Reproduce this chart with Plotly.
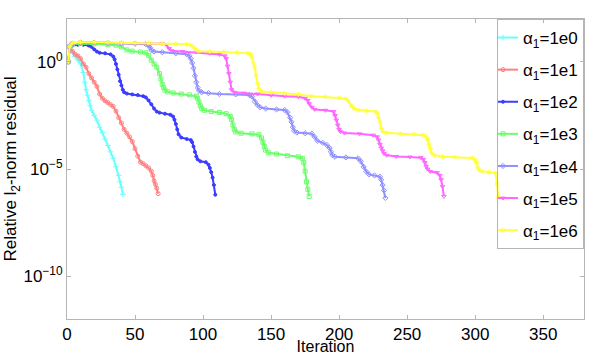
import plotly.graph_objects as go

# iteration numbers and log10 of the relative l2-norm residual
it_1e0 = [1, 2, 4, 6, 8, 10, 12, 13, 14, 15, 16, 17, 18, 20, 22, 24, 26, 28, 30, 32, 34, 36, 38, 39, 40, 41]
lr_1e0 = [0, 0.62, 0.45, 0.25, 0.08, -0.1, -0.5, -0.95, -1.3, -1.55, -1.8, -2.05, -2.25, -2.5, -2.72,
          -3.05, -3.3, -3.6, -3.9, -4.2, -4.5, -4.9, -5.3, -5.6, -5.85, -6.18]

it_1e1 = [1, 2, 4, 6, 8, 10, 12, 14, 16, 18, 20, 22, 24, 26, 28, 30, 32, 34, 36, 38, 40, 42, 44, 46, 48,
          50, 52, 54, 56, 58, 60, 62, 63, 64, 65, 66, 67]
lr_1e1 = [0, 0.65, 0.5, 0.35, 0.28, 0.15, -0.1, -0.25, -0.55, -0.75, -0.95, -1.15, -1.5, -1.7, -1.82,
          -1.9, -2.0, -2.08, -2.3, -2.6, -2.85, -3.15, -3.33, -3.5, -3.72, -4.05, -4.4, -4.68, -4.75,
          -4.85, -4.95, -5.1, -5.3, -5.55, -5.72, -5.9, -6.15]

it_1e2 = [1, 2, 4, 8, 12, 16, 18, 20, 22, 24, 28, 32, 34, 35, 36, 37, 38, 39, 40, 41, 42, 44, 48, 52, 56,
          58, 60, 62, 64, 66, 68, 72, 76, 78, 79, 80, 81, 82, 84, 88, 91, 92, 93, 94, 95, 96, 98, 102,
          104, 105, 106, 107, 108, 109]
lr_1e2 = [0, 0.72, 0.76, 0.8, 0.8, 0.76, 0.7, 0.58, 0.48, 0.42, 0.4, 0.35, 0.25, 0.12, -0.1, -0.35,
          -0.6, -0.9, -1.1, -1.3, -1.42, -1.48, -1.52, -1.55, -1.6, -1.66, -1.8, -1.98, -2.18, -2.32,
          -2.37, -2.42, -2.47, -2.55, -2.7, -2.9, -3.15, -3.38, -3.53, -3.6, -3.65, -3.75, -3.95, -4.2,
          -4.42, -4.55, -4.64, -4.68, -4.8, -4.95, -5.15, -5.4, -5.75, -6.2]

it_1e3 = [1, 2, 4, 10, 20, 30, 36, 40, 44, 48, 54, 58, 60, 62, 64, 66, 68, 69, 70, 71, 72, 74, 78, 84,
          90, 95, 96, 97, 98, 99, 101, 106, 112, 117, 120, 121, 122, 123, 124, 128, 136, 141, 143, 144,
          145, 146, 148, 154, 162, 170, 173, 174, 175, 176, 177, 178]
lr_1e3 = [0, 0.72, 0.82, 0.86, 0.84, 0.8, 0.78, 0.7, 0.56, 0.5, 0.46, 0.42, 0.3, 0.08, -0.1, -0.25,
          -0.55, -0.8, -1.05, -1.2, -1.32, -1.4, -1.45, -1.5, -1.54, -1.6, -1.7, -1.88, -2.05, -2.18,
          -2.26, -2.32, -2.36, -2.42, -2.55, -2.7, -2.95, -3.15, -3.27, -3.33, -3.36, -3.4, -3.55, -3.75,
          -3.95, -4.12, -4.24, -4.3, -4.38, -4.43, -4.5, -4.7, -5.1, -5.6, -5.95, -6.28]

it_1e4 = [1, 2, 4, 10, 20, 30, 40, 50, 58, 60, 61, 62, 64, 70, 80, 88, 90, 91, 92, 93, 94, 95, 96, 97,
          99, 104, 112, 124, 134, 136, 138, 140, 142, 146, 154, 160, 162, 164, 165, 166, 167, 169, 175,
          180, 182, 184, 188, 191, 193, 194, 195, 197, 205, 214, 216, 218, 220, 222, 226, 230, 231, 232,
          233, 234]
lr_1e4 = [0, 0.72, 0.85, 0.9, 0.9, 0.88, 0.86, 0.84, 0.82, 0.78, 0.66, 0.55, 0.48, 0.45, 0.4, 0.36,
          0.28, 0.15, -0.05, -0.3, -0.65, -0.95, -1.2, -1.35, -1.42, -1.46, -1.5, -1.52, -1.55, -1.62,
          -1.85, -2.02, -2.12, -2.18, -2.22, -2.25, -2.35, -2.6, -2.8, -3.05, -3.22, -3.3, -3.33, -3.35,
          -3.5, -3.68, -3.78, -3.88, -4.02, -4.2, -4.35, -4.43, -4.46, -4.5, -4.65, -4.9, -5.12, -5.25,
          -5.3, -5.36, -5.5, -5.75, -6.0, -6.35]

it_1e5 = [1, 2, 4, 10, 20, 30, 40, 50, 60, 70, 73, 75, 77, 85, 95, 105, 112, 116, 117, 118, 119, 120,
          121, 123, 130, 140, 150, 160, 170, 175, 177, 178, 180, 182, 190, 196, 197, 198, 199, 200, 201,
          204, 215, 225, 228, 229, 230, 231, 232, 233, 235, 242, 252, 260, 262, 263, 264, 265, 267, 272,
          274, 275, 276, 277]
lr_1e5 = [0, 0.72, 0.86, 0.9, 0.9, 0.89, 0.88, 0.87, 0.86, 0.85, 0.8, 0.62, 0.52, 0.48, 0.46, 0.4,
          0.34, 0.28, 0.15, -0.2, -0.55, -0.95, -1.3, -1.42, -1.46, -1.5, -1.56, -1.6, -1.63, -1.7, -1.8,
          -1.95, -2.12, -2.22, -2.26, -2.32, -2.5, -2.72, -2.95, -3.15, -3.26, -3.32, -3.36, -3.42, -3.5,
          -3.65, -3.85, -4.02, -4.15, -4.28, -4.36, -4.42, -4.44, -4.47, -4.55, -4.7, -4.88, -5.0, -5.12,
          -5.17, -5.3, -5.5, -5.82, -6.28]

it_1e6 = [1, 2, 4, 10, 20, 30, 40, 50, 60, 70, 80, 88, 91, 93, 95, 97, 105, 115, 125, 133, 135, 136,
          137, 138, 139, 140, 141, 143, 150, 160, 170, 180, 190, 200, 205, 207, 209, 211, 214, 220, 227,
          228, 229, 230, 231, 232, 235, 245, 255, 262, 264, 265, 266, 267, 268, 270, 276, 285, 298, 300,
          301, 302, 303, 305, 310, 315, 316, 317]
lr_1e6 = [0, 0.72, 0.88, 0.92, 0.92, 0.91, 0.9, 0.89, 0.88, 0.87, 0.85, 0.82, 0.78, 0.68, 0.56, 0.5,
          0.48, 0.46, 0.43, 0.4, 0.35, 0.2, -0.05, -0.25, -0.65, -1.0, -1.25, -1.38, -1.43, -1.47, -1.52,
          -1.6, -1.64, -1.68, -1.72, -1.85, -2.05, -2.18, -2.25, -2.28, -2.32, -2.42, -2.6, -2.8, -3.1,
          -3.25, -3.31, -3.35, -3.38, -3.42, -3.5, -3.62, -3.85, -4.05, -4.25, -4.36, -4.42, -4.45, -4.49,
          -4.58, -4.7, -4.95, -5.05, -5.11, -5.15, -5.19, -5.7, -6.29]

labels = ["1e0", "1e1", "1e2", "1e3", "1e4", "1e5", "1e6"]
series = [(it_1e0, lr_1e0), (it_1e1, lr_1e1), (it_1e2, lr_1e2), (it_1e3, lr_1e3),
          (it_1e4, lr_1e4), (it_1e5, lr_1e5), (it_1e6, lr_1e6)]
colors = ["#6affff", "#ff8080", "#3c3cff", "#6aff6a", "#9090ff", "#ff66ff", "#ffff40"]
symbols = ["cross-thin-open", "circle-open", "circle", "square-open", "diamond-open",
           "triangle-down-open", "asterisk-open"]
sizes = [4, 4, 3, 4, 4, 4, 4]

fig = go.Figure()
for lab, (its, lrs), col, sym, sz in zip(labels, series, colors, symbols, sizes):
    fig.add_trace(go.Scatter(
        x=its, y=[10 ** v for v in lrs], mode="lines+markers",
        name=f"α<sub>1</sub>={lab}", legendgroup=lab,
        line=dict(color=col, width=2),
        marker=dict(symbol=sym, size=sz, color=col, line=dict(color=col, width=1)),
    ))

axis_common = dict(showline=True, linecolor="#b5b5b5", linewidth=1, mirror="ticks",
                   ticks="inside", ticklen=4, tickcolor="#b5b5b5", showgrid=False, zeroline=False,
                   tickfont=dict(size=17, color="black"))

fig.update_layout(
    width=598, height=355,
    margin=dict(l=67, r=14, t=19, b=36),
    paper_bgcolor="white", plot_bgcolor="white",
    font=dict(family="Liberation Sans, Arial, sans-serif", color="black"),
    xaxis=dict(range=[0, 380], tickvals=[0, 50, 100, 150, 200, 250, 300, 350],
               title=dict(text="Iteration", font=dict(size=16), standoff=0), automargin=False,
               **axis_common),
    yaxis=dict(type="log", range=[-12, 2], tickvals=[1e-10, 1e-5, 1],
               ticktext=["10<sup>−10</sup>", "10<sup>−5</sup>", "10<sup>0</sup>"],
               title=dict(text="Relative l<sub>2</sub>-norm residual", font=dict(size=17), standoff=2),
               automargin=False, **axis_common),
    legend=dict(x=1, xanchor="right", y=1, yanchor="top", bgcolor="rgba(255,255,255,0)",
                bordercolor="#b5b5b5", borderwidth=1, font=dict(size=17),
                tracegroupgap=7, itemwidth=30, indentation=-15),
)

fig.write_html("out.html", config={"displayModeBar": False},
               post_script="document.body.style.margin='0px';")
